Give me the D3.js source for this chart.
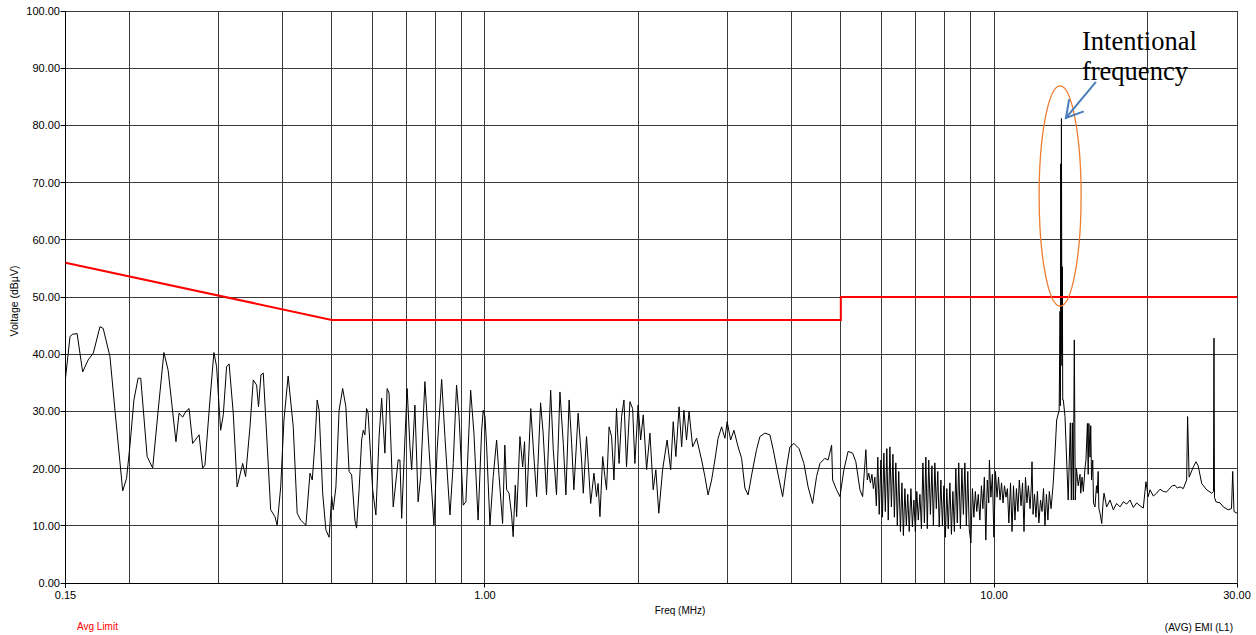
<!DOCTYPE html>
<html>
<head>
<meta charset="utf-8">
<script src="https://cdn.jsdelivr.net/npm/d3@7"></script>
<style>
  html, body { margin: 0; padding: 0; background: #fff; }
  svg { display: block; }
</style>
</head>
<body>
<svg id="chart" width="1256" height="635"></svg>
<script>
// ---- axis values ----
const yTicks = [0, 10, 20, 30, 40, 50, 60, 70, 80, 90, 100];
const xTickLabels = [0.15, 1, 10, 30];
const gridFreqs = [0.2, 0.3, 0.4, 0.5, 0.6, 0.7, 0.8, 0.9, 1, 2, 3, 4, 5, 6, 7, 8, 9, 10, 20, 30];

// ---- average limit (dBµV) ----
const limitFreq  = [0.15, 0.5, 5, 5, 30];
const limitLevel = [56, 46, 46, 50, 50];

// ---- measured average trace, [MHz, dBµV] ----
const band150k = [
  [0.150,35.8],[0.1531,43.1],[0.1550,43.5],[0.1581,43.6],[0.1621,36.9],[0.1662,39.0],[0.1701,40.2],[0.1753,44.8],
  [0.1779,44.5],[0.1834,39.6],[0.1876,30.2],[0.1943,16.1],[0.1977,18.3],[0.2008,24.1],[0.2044,32.0],[0.2083,35.8],
  [0.2108,35.8],[0.2170,22.1],[0.2225,20.1],[0.2281,30.2],[0.2341,40.3],[0.2386,37.2],[0.2472,24.7],[0.2507,29.7],
  [0.2548,29.0],[0.2586,30.0],[0.2623,30.5],[0.2666,24.4],[0.2745,25.9],[0.2789,20.1],[0.2818,20.6],[0.2883,32.0],
  [0.2935,40.3],[0.2971,37.8],[0.3005,30.8],[0.3026,26.7],[0.3062,29.4],[0.3108,37.8],[0.3144,38.3],[0.3203,29.7],
  [0.3260,16.8],[0.3343,20.9],[0.3387,18.6],[0.3455,27.3],[0.3507,35.5],[0.3560,34.6],[0.3591,30.8],[0.3631,36.4],
  [0.3669,36.7],[0.3724,26.2],[0.3794,12.8],[0.3868,11.6],[0.3907,10.1],[0.3970,16.8],[0.4029,28.5],[0.4106,36.2],
  [0.4202,27.3],[0.4277,12.2],[0.4345,11.0],[0.4449,10.1],[0.4532,19.2],[0.4579,18.0],[0.4634,24.4],[0.4682,32.0],
  [0.4723,30.2],[0.4800,15.7],[0.4870,9.3],[0.4941,8.0],[0.4999,15.1],[0.5035,12.8],[0.5096,16.8],[0.5170,30.2],
  [0.5254,34.0],[0.5331,30.8],[0.5409,19.5],[0.5472,18.9],[0.5553,11.0],[0.5595,9.6],[0.5659,16.3],[0.5725,25.0],
  [0.5767,26.7],[0.5810,25.9],[0.5854,30.5],[0.5895,29.7],[0.6017,16.3],[0.6106,11.9],[0.6195,25.6],[0.6267,32.3],
  [0.6360,22.7],[0.6425,34.0],[0.6481,33.2],[0.6604,13.3],[0.6752,21.5],[0.6808,21.5],[0.6861,11.3],[0.6962,25.0],
  [0.7033,34.0],[0.7123,23.8],[0.7178,19.8],[0.7284,31.1],[0.7391,14.2],[0.7476,18.6],[0.7621,35.2],[0.7766,23.3],
  [0.7939,10.1],[0.8055,23.3],[0.8221,35.6],[0.8343,25.6],[0.8536,11.9],[0.8663,20.9],[0.8794,34.6],[0.8895,29.1],
  [0.9064,13.6],[0.9173,14.2],[0.9373,33.7],[0.9513,26.2],[0.9694,11.0],[0.9851,26.7],[0.9922,30.2]
];

const band1M = [
  [1.000,29.1],[1.0077,23.8],[1.0228,10.1],[1.038,18.6],[1.054,25.0],[1.066,18.6],[1.083,10.4],[1.094,24.1],
  [1.103,16.3],[1.115,15.7],[1.128,11.9],[1.136,8.1],[1.147,17.1],[1.154,11.6],[1.1714,25.6],[1.186,20.3],
  [1.196,24.7],[1.207,13.3],[1.230,30.5],[1.244,23.8],[1.263,15.1],[1.286,31.5],[1.301,26.2],[1.321,15.4],
  [1.346,33.7],[1.362,23.3],[1.382,15.4],[1.4037,33.4],[1.425,24.4],[1.442,15.4],[1.463,32.0],[1.480,24.4],
  [1.495,16.3],[1.524,29.7],[1.548,21.5],[1.560,15.7],[1.583,25.6],[1.597,20.3],[1.613,13.9],[1.637,19.2],
  [1.656,15.1],[1.668,17.4],[1.682,11.6],[1.703,22.1],[1.720,18.6],[1.733,16.3],[1.753,27.3],[1.773,25.6],
  [1.792,18.0],[1.813,30.5],[1.834,20.9],[1.855,29.1],[1.875,32.0],[1.897,20.3],[1.9265,31.7],[1.950,30.5],
  [1.970,20.9],[1.999,31.1],[2.022,25.0],[2.046,29.4],[2.077,19.8],[2.1088,26.2],[2.140,16.3],[2.166,19.8],
  [2.195,12.2],[2.233,19.8],[2.279,25.0],[2.316,19.8],[2.343,28.2],[2.371,22.1],[2.406,30.8],[2.434,23.8],
  [2.459,30.2],[2.488,25.0],[2.517,30.0],[2.558,23.8],[2.604,25.3],[2.664,21.5],[2.704,18.6],[2.743,15.4],
  [2.787,18.0],[2.829,21.5],[2.870,25.3],[2.916,27.3],[2.960,25.3],[2.990,28.2],[3.038,25.0],[3.083,26.7],
  [3.142,23.8],[3.192,21.8],[3.240,16.6],[3.287,15.4],[3.355,19.8],[3.415,23.3],[3.468,25.6],[3.546,26.2],
  [3.628,25.9],[3.683,23.3],[3.748,19.8],[3.843,15.1],[3.911,20.1],[3.972,23.8],[4.044,24.4],[4.139,23.5],
  [4.231,20.9],[4.312,16.8],[4.401,13.9],[4.480,18.6],[4.549,20.9],[4.652,21.8],[4.720,21.5],[4.796,24.1],
  [4.818,18.0],[4.904,16.3],[4.980,15.1]
];

const band5M = [
  [5.070,19.8],[5.167,23.0],[5.274,22.7],[5.351,21.2],[5.451,16.3],[5.518,15.1],[5.599,23.3],[5.636,18.0],
  [5.673,19.2],[5.716,17.5],[5.755,19.0],[5.793,16.5],[5.832,18.5],[5.871,13.5],[5.910,22.0],[5.948,12.0],
  [5.994,21.5],[6.035,11.5],[6.075,22.7],[6.115,12.5],[6.156,23.5],[6.196,11.0],[6.243,23.8],[6.285,13.3],
  [6.328,22.5],[6.370,11.5],[6.412,21.0],[6.455,10.0],[6.497,19.5],[6.547,9.0],[6.591,17.5],[6.635,8.3],
  [6.680,16.5],[6.724,10.0],[6.768,15.5],[6.813,9.0],[6.865,16.5],[6.911,9.8],[6.958,14.5],[7.004,9.0],
  [7.050,16.0],[7.097,11.0],[7.150,15.5],[7.199,9.5],[7.247,21.0],[7.296,10.5],[7.344,22.0],[7.393,9.5],
  [7.441,21.5],[7.498,12.0],[7.549,20.5],[7.599,10.0],[7.650,21.0],[7.701,13.0],[7.752,19.5],[7.802,9.8],
  [7.862,18.0],[7.916,10.0],[7.969,17.0],[8.022,8.0],[8.075,16.5],[8.128,9.5],[8.189,17.5],[8.245,8.5],
  [8.300,16.0],[8.356,9.0],[8.411,20.0],[8.467,10.5],[8.522,21.0],[8.587,9.5],[8.645,20.0],[8.704,12.0],
  [8.762,21.0],[8.820,10.0],[8.878,19.5],[8.936,9.5],[9.005,7.0],[9.066,16.5],[9.126,11.5],[9.187,16.0],
  [9.248,12.5],[9.309,15.5],[9.379,11.0],[9.443,17.0],[9.506,13.0],[9.570,18.5],[9.633,7.5],[9.697,18.0],
  [9.761,14.0],[9.790,21.5],[9.857,15.0],[9.924,19.0],[9.990,8.0],[10.064,19.5],[10.134,15.0],[10.203,18.5],
  [10.273,14.5],[10.343,17.5],[10.412,14.0],[10.482,17.0],[10.552,15.0],[10.621,16.5],[10.691,10.5],[10.772,17.5],
  [10.845,9.0],[10.918,17.0],[10.991,11.0],[11.064,16.5],[11.137,12.5],[11.210,18.0],[11.297,13.5],[11.373,17.5],
  [11.449,9.0],[11.526,18.5],[11.602,14.0],[11.678,17.0],[11.766,13.0],[11.835,17.0],[11.872,21.2],[11.926,12.0],
  [12.005,15.5],[12.085,11.5],[12.165,16.0],[12.245,10.5],[12.338,14.5],[12.421,12.5],[12.505,16.5],[12.588,10.0],
  [12.672,15.5],[12.756,11.0],[12.839,16.0],[12.938,13.0],[13.055,17.0],[13.16,22.0],[13.270,28.5],[13.422,30.2]
];

const band13M = [
  [13.476,47.5],[13.494,31.0],[13.519,73.3],[13.537,40.0],[13.560,81.2],[13.592,38.0],[13.616,55.3],[13.641,32.0],
  [13.677,32.0],[13.781,29.1],[13.982,14.5],[14.118,28.0],[14.182,14.5],[14.246,28.0],[14.310,14.5],[14.373,42.5],
  [14.437,14.5],[14.514,20.0],[14.628,17.0],[14.751,19.0],[14.798,15.7],[14.884,18.5],[14.971,16.0],[15.085,20.0],
  [15.151,21.5],[15.251,27.9],[15.305,19.0],[15.352,27.9],[15.434,22.0],[15.483,27.5],[15.539,18.0],[15.622,21.5],
  [15.678,14.0],[15.783,13.3],[15.888,17.0],[15.944,15.7],[16.013,19.5],[16.062,13.0],[16.148,12.2],[16.272,10.4],
  [16.367,14.0],[16.440,15.7],[16.637,13.3],[16.895,14.5],[17.147,12.8],[17.407,13.9],[17.676,13.3],[17.940,14.2],
  [18.212,13.8],[18.494,14.5],[18.770,13.2],[19.054,14.0],[19.349,13.5],[19.638,13.1],[19.874,17.7],[20.075,15.1],
  [20.244,16.3],[20.55,15.2],[20.857,15.7],[21.18,16.4],[21.497,16.0],[21.8,15.9],[22.161,16.6],[22.4,17.0],
  [22.662,17.1],[22.9,16.6],[23.186,16.8],[23.532,16.5],[23.889,18.0],[23.994,29.1],[24.161,18.5],[24.620,20.3],
  [24.916,21.2],[25.169,20.5],[25.575,17.4],[26.149,16.3],[26.758,15.7],[26.974,16.0],[27.034,42.8],[27.094,15.0],
  [27.275,14.2],[27.783,14.0],[28.198,13.3],[28.826,12.8],[29.265,13.0],[29.423,19.5],[29.594,12.5],[30.0,12.2]
];

const trace = [...band150k, ...band1M, ...band5M, ...band13M];

// ---- annotation ----
const noteLines = ["Intentional", "frequency"];
const carrierFreq = 13.48;          // ellipse centre
const carrierSpan = [48.4, 86.9];   // ellipse vertical extent, dBµV

// ---- layout ----
const svg = d3.select("#chart");
const x = d3.scaleLog().domain([0.15, 30]).range([65.5, 1237]);
const y = d3.scaleLinear().domain([0, 100]).range([583, 11]);
const crisp = v => Math.round(v - 0.5) + 0.5;

const gridColor = "#3a3a3a";

// horizontal grid
svg.append("g").selectAll("line").data(yTicks).join("line")
  .attr("x1", x(0.15)).attr("x2", x(30) + 0.5)
  .attr("y1", d => crisp(y(d))).attr("y2", d => crisp(y(d)))
  .attr("stroke", gridColor).attr("stroke-width", 1);

// vertical grid
svg.append("g").selectAll("line").data(gridFreqs).join("line")
  .attr("x1", d => crisp(x(d))).attr("x2", d => crisp(x(d)))
  .attr("y1", y(100)).attr("y2", y(0))
  .attr("stroke", gridColor).attr("stroke-width", 1);

// left axis line + ticks
const axisFont = "'Liberation Sans', Arial, sans-serif";
svg.append("line")
  .attr("x1", crisp(x(0.15))).attr("x2", crisp(x(0.15)))
  .attr("y1", y(100)).attr("y2", y(0) + 5)
  .attr("stroke", "#000");
svg.append("g").selectAll("line").data(yTicks).join("line")
  .attr("x1", crisp(x(0.15)) - 5).attr("x2", crisp(x(0.15)))
  .attr("y1", d => crisp(y(d))).attr("y2", d => crisp(y(d)))
  .attr("stroke", "#000");
svg.append("g").selectAll("text").data(yTicks).join("text")
  .attr("x", crisp(x(0.15)) - 5.5).attr("y", d => y(d) + 4)
  .attr("text-anchor", "end")
  .attr("font-family", axisFont).attr("font-size", 11).attr("fill", "#000")
  .text(d => d3.format(".2f")(d));

// bottom axis line + ticks
svg.append("line")
  .attr("x1", x(0.15)).attr("x2", x(30) + 0.5)
  .attr("y1", crisp(y(0))).attr("y2", crisp(y(0)))
  .attr("stroke", "#000");
svg.append("g").selectAll("line").data(xTickLabels).join("line")
  .attr("x1", d => crisp(x(d))).attr("x2", d => crisp(x(d)))
  .attr("y1", crisp(y(0))).attr("y2", crisp(y(0)) + 4)
  .attr("stroke", "#000");
svg.append("g").selectAll("text").data(xTickLabels).join("text")
  .attr("x", d => x(d)).attr("y", y(0) + 16)
  .attr("text-anchor", "middle")
  .attr("font-family", axisFont).attr("font-size", 11).attr("fill", "#000")
  .text(d => d3.format(".2f")(d));

// axis titles and legend entries
svg.append("text")
  .attr("transform", `translate(18, ${(y(0) + y(100)) / 2 + 4}) rotate(-90)`)
  .attr("text-anchor", "middle")
  .attr("font-family", axisFont).attr("font-size", 10.5).attr("fill", "#000")
  .text("Voltage (dBµV)");
svg.append("text")
  .attr("x", 680).attr("y", 614)
  .attr("text-anchor", "middle")
  .attr("font-family", axisFont).attr("font-size", 10).attr("fill", "#000")
  .text("Freq (MHz)");
svg.append("text")
  .attr("x", 77).attr("y", 630)
  .attr("font-family", axisFont).attr("font-size", 10).attr("fill", "#ff0000")
  .text("Avg Limit");
svg.append("text")
  .attr("x", 1233).attr("y", 631)
  .attr("text-anchor", "end")
  .attr("font-family", axisFont).attr("font-size", 10).attr("fill", "#000")
  .text("(AVG) EMI (L1)");

// measured trace
const traceLine = d3.line().x(d => x(d[0])).y(d => y(d[1]));
svg.append("path")
  .datum(trace)
  .attr("d", traceLine)
  .attr("fill", "none")
  .attr("stroke", "#000")
  .attr("stroke-width", 1)
  .attr("stroke-linejoin", "miter");

// average limit line
const limitPts = limitFreq.map((f, i) => [f, limitLevel[i]]);
svg.append("path")
  .datum(limitPts)
  .attr("d", d3.line().x(d => x(d[0])).y(d => y(d[1])))
  .attr("fill", "none")
  .attr("stroke", "#ff0000")
  .attr("stroke-width", 2);

// annotation: ellipse around the carrier, arrow, caption
const ex = x(carrierFreq);
const eyTop = y(carrierSpan[1]), eyBot = y(carrierSpan[0]);
svg.append("ellipse")
  .attr("cx", ex).attr("cy", (eyTop + eyBot) / 2)
  .attr("rx", 21).attr("ry", (eyBot - eyTop) / 2)
  .attr("fill", "none").attr("stroke", "#ed7d31").attr("stroke-width", 1.3);

const tail = [x(15.85), y(87.6)];
const tip = [x(13.84), y(81.3)];
const ang = Math.atan2(tail[1] - tip[1], tail[0] - tip[0]);
const headLen = 19, spread = Math.PI / 6;
const arrowColor = "#4a7ebb";
svg.append("line")
  .attr("x1", tail[0]).attr("y1", tail[1]).attr("x2", tip[0]).attr("y2", tip[1])
  .attr("stroke", arrowColor).attr("stroke-width", 2);
svg.append("path")
  .attr("d", `M${tip[0] + headLen * Math.cos(ang - spread)},${tip[1] + headLen * Math.sin(ang - spread)}`
           + `L${tip[0]},${tip[1]}`
           + `L${tip[0] + headLen * Math.cos(ang + spread)},${tip[1] + headLen * Math.sin(ang + spread)}`)
  .attr("fill", "none").attr("stroke", arrowColor).attr("stroke-width", 2)
  .attr("stroke-linejoin", "miter");

svg.append("g").selectAll("text").data(noteLines).join("text")
  .attr("x", x(14.88))
  .attr("y", (d, i) => y(93.2) + i * 30)
  .attr("font-family", "'Liberation Serif', 'Times New Roman', serif")
  .attr("font-size", 26.5).attr("fill", "#000")
  .text(d => d);
</script>
</body>
</html>
